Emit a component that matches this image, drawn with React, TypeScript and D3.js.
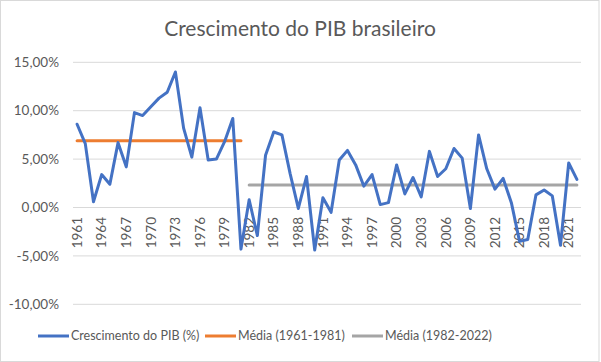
import * as d3 from "d3";

const years = d3.range(1961, 2023).map(String);
const growth = [
  8.6, 6.6, 0.6, 3.4, 2.4, 6.7, 4.2, 9.8, 9.5, 10.4, 11.3, 11.9, 14.0, 8.2, 5.2,
  10.3, 4.9, 5.0, 6.8, 9.2, -4.3, 0.8, -2.9, 5.4, 7.8, 7.5, 3.5, -0.1, 3.2, -4.4,
  1.0, -0.5, 4.9, 5.9, 4.4, 2.2, 3.4, 0.3, 0.5, 4.4, 1.4, 3.1, 1.1, 5.8, 3.2, 4.0,
  6.1, 5.1, -0.1, 7.5, 4.0, 1.9, 3.0, 0.5, -3.5, -3.3, 1.3, 1.8, 1.2, -3.9, 4.6,
  2.9,
];
const meanEarly = { from: "1961", to: "1981", value: 6.89 };
const meanLate = { from: "1982", to: "2022", value: 2.33 };
const yTicks = [15, 10, 5, 0, -5, -10];
const legendItems = [
  { label: "Crescimento do PIB (%)", color: "#4472C4" },
  { label: "Média (1961-1981)", color: "#ED7D31" },
  { label: "Média (1982-2022)", color: "#A5A5A5" },
];

const width = 601;
const height = 362;
const font = "Lato, 'Open Sans', sans-serif";
const textColor = "#595959";

export default function App() {
  const x = d3.scalePoint<string>().domain(years).range([73, 581]).padding(0.5);
  const y = d3.scaleLinear().domain([-10, 15]).range([304.3, 62.3]);

  const line = d3
    .line<[string, number]>()
    .x((d) => x(d[0]) as number)
    .y((d) => y(d[1]));

  const series: [string, number][] = years.map((yr, i) => [yr, growth[i]]);
  const fmt = (v: number) => v.toFixed(2).replace(".", ",") + "%";
  const labelYears = years.filter((_, i) => i % 3 === 0);

  const legendX = [38, 205, 352];

  return (
    <svg
      width={width}
      height={height}
      style={{ position: "absolute", left: 0, top: 0, background: "#fff" }}
      fontFamily={font}
    >
      <rect x={0.5} y={0.5} width={598.5} height={361} fill="#fff" stroke="#d9d9d9" />
      <text x={300} y={36} textAnchor="middle" fontSize={21} fill={textColor}>
        Crescimento do PIB brasileiro
      </text>

      {yTicks.map((t) => (
        <g key={t}>
          <line x1={73} x2={581} y1={y(t)} y2={y(t)} stroke="#d9d9d9" />
          <text
            x={59}
            y={y(t)}
            dy="0.35em"
            textAnchor="end"
            fontSize={13.5}
            fill={textColor}
          >
            {fmt(t)}
          </text>
        </g>
      ))}

      {labelYears.map((yr) => (
        <text
          key={yr}
          transform={`translate(${x(yr)},${217}) rotate(-90)`}
          dy="0.35em"
          textAnchor="end"
          fontSize={13.5}
          fill={textColor}
        >
          {yr}
        </text>
      ))}

      <line
        x1={x(meanEarly.from)}
        x2={x(meanEarly.to)}
        y1={y(meanEarly.value)}
        y2={y(meanEarly.value)}
        stroke="#ED7D31"
        strokeWidth={3}
        strokeLinecap="round"
      />
      <line
        x1={x(meanLate.from)}
        x2={x(meanLate.to)}
        y1={y(meanLate.value)}
        y2={y(meanLate.value)}
        stroke="#A5A5A5"
        strokeWidth={3}
        strokeLinecap="round"
      />
      <path
        d={line(series) ?? ""}
        fill="none"
        stroke="#4472C4"
        strokeWidth={3}
        strokeLinejoin="round"
        strokeLinecap="round"
      />

      {legendItems.map((item, i) => (
        <g key={item.label} transform={`translate(${legendX[i]},336)`}>
          <line x1={0} x2={31} y1={0} y2={0} stroke={item.color} strokeWidth={3} />
          <text x={33} dy="0.35em" fontSize={12.5} fill={textColor}>
            {item.label}
          </text>
        </g>
      ))}
    </svg>
  );
}
